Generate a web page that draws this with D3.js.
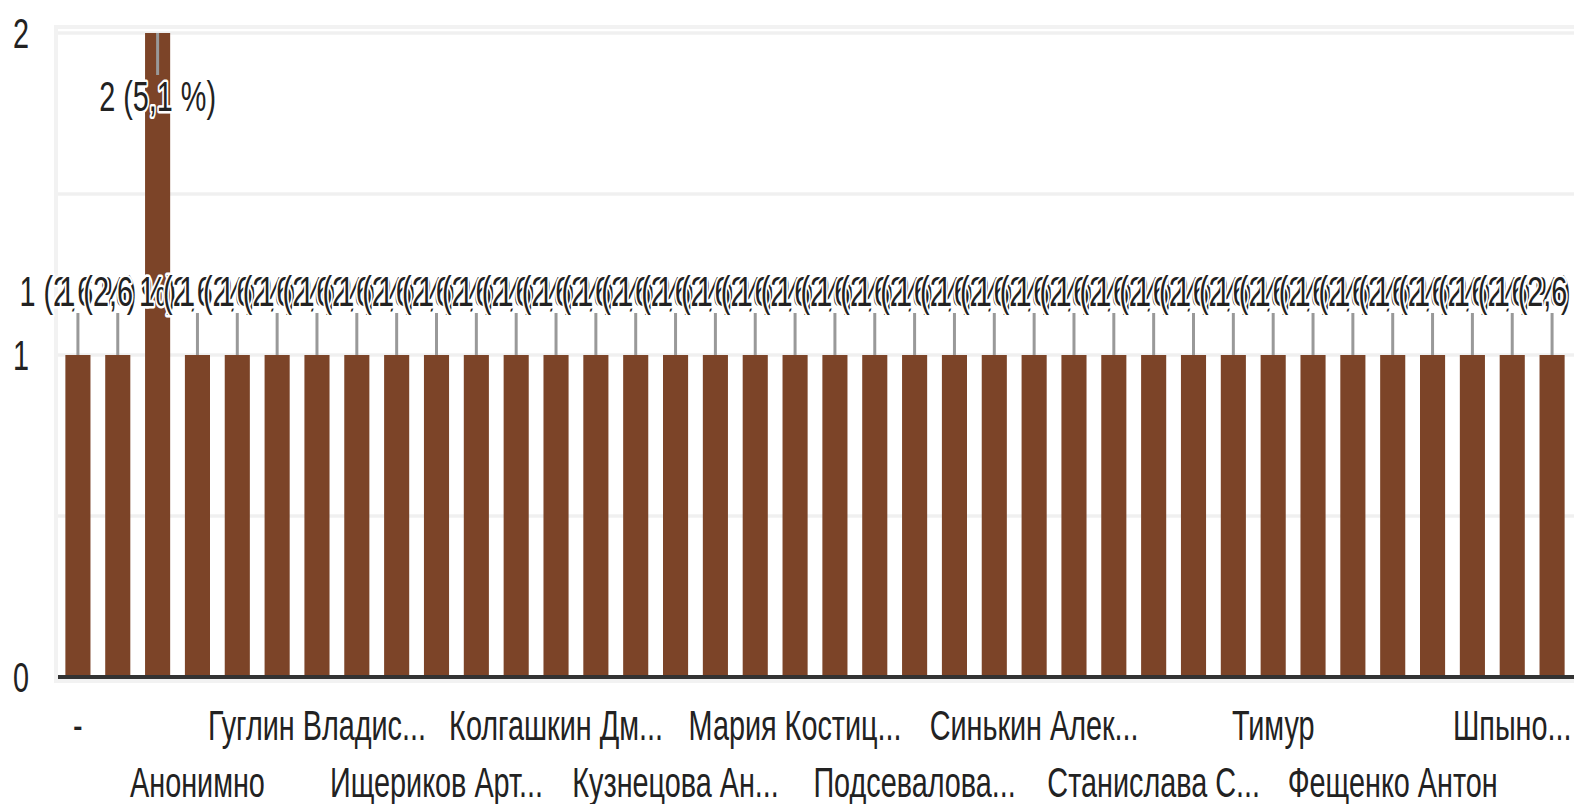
<!DOCTYPE html>
<html>
<head>
<meta charset="utf-8">
<script src="https://cdn.jsdelivr.net/npm/d3@7"></script>
<style>
  body { margin: 0; background: #fff; }
  svg { display: block; }
  text { font-family: "Liberation Sans", Arial, sans-serif; }
</style>
</head>
<body>
<svg id="chart" width="1574" height="804"></svg>
<script>
// Data (only every third name is printed on the axis)
const names = [
  "-", "", "", "Анонимно", "", "", "Гуглин Владис...", "", "",
  "Ищериков Арт...", "", "", "Колгашкин Дм...", "", "", "Кузнецова Ан...", "", "",
  "Мария Костиц...", "", "", "Подсевалова...", "", "", "Синькин Алек...", "", "",
  "Станислава С...", "", "", "Тимур", "", "", "Фещенко Антон", "", "",
  "Шпыно...", ""
];
const counts = [
  1, 1, 2, 1, 1, 1, 1, 1, 1, 1,
  1, 1, 1, 1, 1, 1, 1, 1, 1, 1,
  1, 1, 1, 1, 1, 1, 1, 1, 1, 1,
  1, 1, 1, 1, 1, 1, 1, 1
];
const yTickValues = [0, 1, 2];
const gridValues = [0.5, 1, 1.5, 2];

// Layout
const W = 1574, H = 804;
const plot = { left: 58, right: 1572, top: 33, bottom: 677 };
const barColor = "#7c4428";
const fontSize = 43, squeeze = 0.67;   // the picture's text is tall and narrow

const svg = d3.select("#chart");

const x = d3.scaleBand()
  .domain(d3.range(counts.length))
  .range([plot.left, plot.right])
  .paddingInner(0.37)
  .paddingOuter(0.185);

const y = d3.scaleLinear()
  .domain([0, 2])
  .range([plot.bottom, plot.top]);

const total = d3.sum(counts);
const pct = v => (v / total * 100).toFixed(1).replace(".", ",") + " %";

// helper for narrow text
const addText = (g, str, tx, ty, anchor) => g.append("text")
  .attr("transform", `translate(${tx},${ty}) scale(${squeeze},1)`)
  .attr("text-anchor", anchor)
  .attr("font-size", fontSize)
  .attr("fill", "#222")
  .text(str);

// frame around the plot area
svg.append("rect")
  .attr("x", 56).attr("y", 27)
  .attr("width", W - 56 + 10).attr("height", 654)
  .attr("fill", "none")
  .attr("stroke", "#f2f2f2")
  .attr("stroke-width", 4);

// gridlines
svg.append("g").selectAll("line")
  .data(gridValues)
  .join("line")
  .attr("x1", plot.left).attr("x2", W)
  .attr("y1", d => y(d)).attr("y2", d => y(d))
  .attr("stroke", "#f0f0f0")
  .attr("stroke-width", 3.5);

// y tick labels
const yLab = svg.append("g");
yTickValues.forEach(v => addText(yLab, v, 13, y(v) + 15, "start"));

// bars
svg.append("g").selectAll("rect")
  .data(counts)
  .join("rect")
  .attr("x", (d, i) => x(i))
  .attr("y", d => y(d))
  .attr("width", x.bandwidth())
  .attr("height", d => y(0) - y(d))
  .attr("fill", barColor);

// x axis line
svg.append("line")
  .attr("x1", plot.left).attr("x2", W)
  .attr("y1", 677).attr("y2", 677)
  .attr("stroke", "#333")
  .attr("stroke-width", 4);

// data labels with leader lines
const labels = counts.map((v, i) => {
  const top = y(v);
  const cx = x(i) + x.bandwidth() / 2;
  let base = top - 49, l1 = top - 42, l2 = top;
  if (base - 32 < 27) {            // no room above: put it inside, line from the bar top
    base = top + 78; l1 = top; l2 = top + 42;
  }
  return { v, cx, base, l1, l2 };
});

svg.append("g").selectAll("line")
  .data(labels)
  .join("line")
  .attr("x1", d => d.cx).attr("x2", d => d.cx)
  .attr("y1", d => d.l1).attr("y2", d => d.l2)
  .attr("stroke", "#999")
  .attr("stroke-width", 3);

const dl = svg.append("g");
labels.forEach(d => {
  addText(dl, d.v + " (" + pct(d.v) + ")", d.cx, d.base, "middle")
    .attr("stroke", "#fff")
    .attr("stroke-width", 5)
    .attr("stroke-linejoin", "round")
    .attr("paint-order", "stroke");
});

// category labels, shown ones alternate between two rows
const xl = svg.append("g");
let shown = 0;
names.forEach((n, i) => {
  if (!n) return;
  const row = shown % 2;
  addText(xl, n, x(i) + x.bandwidth() / 2, row ? 797 : 740, "middle");
  shown++;
});
</script>
</body>
</html>
